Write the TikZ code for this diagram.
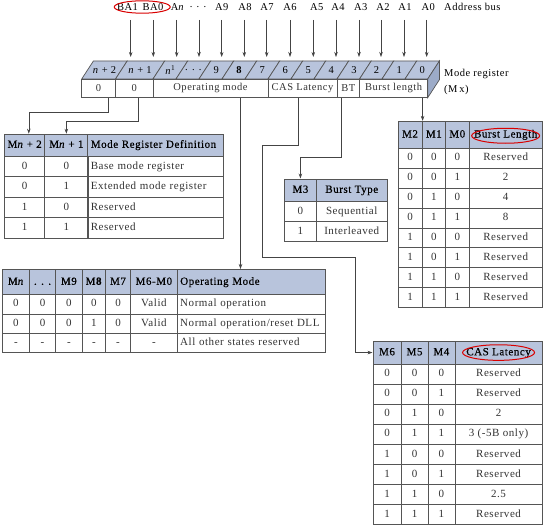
\documentclass[tikz,border=0pt]{standalone}
\usepackage{fontspec}
\setmainfont{Liberation Serif}[LetterSpace=5]
\newfontfamily\hdrfam{Liberation Serif}[LetterSpace=5,FakeBold=0.35]
\usetikzlibrary{matrix,arrows.meta,calc}
\definecolor{hdrblue}{HTML}{B8C4DC}
\definecolor{sideblue}{HTML}{9CABC8}
\definecolor{tline}{HTML}{555555}
\definecolor{txt}{HTML}{333333}
\definecolor{cline}{HTML}{444444}
\newcommand\tabfont{\fontsize{11}{13}\selectfont}
\newcommand\regfont{\fontsize{10.5}{12}\selectfont}
\newcommand\hdrfont{\hdrfam\fontsize{11}{13}\selectfont}
\tikzset{
  tbl/.style={matrix of nodes, column sep=-0.7pt, row sep=-0.7pt, inner sep=0pt,
    nodes={draw=tline, line width=0.7pt, anchor=center, inner xsep=2pt, inner ysep=0pt,
      text height=7.5pt, text depth=2pt, font=\tabfont, text=txt}},
  hrow/.style={nodes={fill=hdrblue, font=\hdrfont, text=black, minimum height=#1}},
  cw/.style={nodes={minimum width=#1}},
  lw/.style={nodes={text width=#1, align=left, inner xsep=3pt}},
  rh/.style={nodes={minimum height=#1}},
  front/.style={draw=tline, line width=0.7pt, fill=white, minimum height=18.7pt, inner sep=0pt,
    font=\regfont, text=txt},
  topface/.style={draw=tline, line width=0.7pt, fill=hdrblue},
  toplbl/.style={font=\regfont, text=black, inner sep=0pt},
  addr/.style={font=\regfont, text=black, inner sep=1pt},
  arr/.style={draw=cline, line width=0.6pt, -{Stealth[length=5pt,width=3.5pt]}},
  redell/.style={draw=red!85!black, line width=1pt},
}
\begin{document}
\begin{tikzpicture}[x=1pt,y=-1pt]
\useasboundingbox[fill=white] (0,0) rectangle (546,527);

% address labels and arrows
\foreach \lx/\ax/\t [count=\i] in {127.5/130.7/BA1, 153/153.3/BA0, 177.5/176.7/{A\textit{n}},
  198/199/{. . .}, 221.7/221.7/A9, 245/244.3/A8, 267/266.7/A7, 290/290/A6, 316.7/313.3/A5,
  338/336/A4, 360.7/359/A3, 383/381/A2, 405/404/A1, 428.3/426.7/A0}
{
  \node[addr] (L\i) at (\lx,7) {\t};
  \coordinate (S\i) at (\ax,20);
  \coordinate (E\i) at (\ax,57);
  \draw[arr] (S\i) -- (E\i);
}
\node[addr, anchor=west] (abus) at (443,7) {Address bus};
\path (L1) -- (L2) coordinate[pos=0.5] (bamid);
\draw[redell] ([xshift=2pt]bamid) ellipse [x radius=28pt, y radius=6.2pt];

% register top face
\foreach \l/\r/\t [count=\i] in {81.7/115.5/{\textit{n} + 2}, 115.5/153/{\textit{n} + 1},
  153/176/{\textit{n}\textsuperscript{1}}, 176/199/{. . .}, 199/222/9, 222/245/{\textbf{8}},
  245/268/7, 268/291/6, 291/314/5, 314/337/4, 337/359.5/3, 359.5/382/2, 382/405/1, 405/427.7/0}
{
  \filldraw[topface] (\l,79) -- (\r,79) -- (\r+11.7,61) -- (\l+11.7,61) -- cycle;
  \node[toplbl] (T\i) at ({(\l+\r)/2+5.85},70.5) {\t};
}
% side face
\filldraw[draw=tline, line width=0.7pt, fill=sideblue] (427.7,79) -- (439.4,61) -- (439.4,79.7) -- (427.7,97.7) -- cycle;

% register front cells
\node[front, minimum width=33.8pt] (c1) at (98.6,88.35) {0};
\node[front, minimum width=37.5pt] (c2) at (134.25,88.35) {0};
\node[front, minimum width=115pt] (cop) at (210.5,88.35) {Operating mode};
\node[front, minimum width=69pt] (ccas) at (302.5,88.35) {CAS Latency};
\node[front, minimum width=22.5pt] (cbt) at (348.25,88.35) {BT};
\node[front, minimum width=68.2pt] (cbl) at (393.6,88.35) {Burst length};

\node[addr, anchor=west] (mreg) at (443,74) {Mode register};
\node[addr, anchor=west] (mx) at (443,89.5) {(M\,x)};

% Mode register definition
\matrix (tblA) [tbl, anchor=north west, rh=20.5pt, row 1/.style={hrow=22pt},
  column 1/.style={cw=40.3pt}, column 2/.style={cw=43pt}, column 3/.style={lw=129.4pt}]
  at (4,133.5) {
  M\textit{n} + 2 & M\textit{n} + 1 & Mode Register Definition \\
  0 & 0 & Base mode register \\
  0 & 1 & Extended mode register \\
  1 & 0 & Reserved \\
  1 & 1 & Reserved \\
};

% Burst length
\matrix (tblB) [tbl, anchor=north west, rh=19.9pt, row 1/.style={hrow=27pt},
  column 1/.style={cw=24.4pt}, column 2/.style={cw=23.3pt}, column 3/.style={cw=23.5pt},
  column 4/.style={cw=73.2pt}]
  at (397.3,120.7) {
  M2 & M1 & M0 & Burst Length \\
  0 & 0 & 0 & Reserved \\
  0 & 0 & 1 & 2 \\
  0 & 1 & 0 & 4 \\
  0 & 1 & 1 & 8 \\
  1 & 0 & 0 & Reserved \\
  1 & 0 & 1 & Reserved \\
  1 & 1 & 0 & Reserved \\
  1 & 1 & 1 & Reserved \\
};
\draw[redell] ([yshift=-1pt]tblB-1-4.center) ellipse [x radius=34pt, y radius=7.5pt];

% Burst type
\matrix (tblC) [tbl, anchor=north west, rh=20pt, row 1/.style={hrow=22.4pt},
  column 1/.style={cw=31.7pt}, column 2/.style={cw=71pt}]
  at (284,178.3) {
  M3 & Burst Type \\
  0 & Sequential \\
  1 & Interleaved \\
};

% Operating mode
\matrix (tblD) [tbl, anchor=north west, rh=19.3pt, row 1/.style={hrow=25pt},
  column 1/.style={cw=27.3pt}, column 2/.style={cw=26pt}, column 3/.style={cw=26.7pt},
  column 4/.style={cw=23.3pt}, column 5/.style={cw=25pt}, column 6/.style={cw=46.7pt},
  column 7/.style={lw=142.3pt}]
  at (1.7,269) {
  M\textit{n} & . . . & M9 & M\textbf{8} & M7 & M6-M0 & Operating Mode \\
  0 & 0 & 0 & 0 & 0 & Valid & Normal operation \\
  0 & 0 & 0 & 1 & 0 & Valid & Normal operation/reset DLL \\
  - & - & - & - & - & - & All other states reserved \\
};

% CAS latency
\matrix (tblE) [tbl, anchor=north west, rh=20.1pt, row 1/.style={hrow=22.6pt},
  column 1/.style={cw=28.4pt}, column 2/.style={cw=26.6pt}, column 3/.style={cw=27pt},
  column 4/.style={cw=87.4pt}]
  at (372.3,340.7) {
  M6 & M5 & M4 & CAS Latency \\
  0 & 0 & 0 & Reserved \\
  0 & 0 & 1 & Reserved \\
  0 & 1 & 0 & 2 \\
  0 & 1 & 1 & 3 (-5B only) \\
  1 & 0 & 0 & Reserved \\
  1 & 0 & 1 & Reserved \\
  1 & 1 & 0 & 2.5 \\
  1 & 1 & 1 & Reserved \\
};
\draw[redell] (tblE-1-4.center) ellipse [x radius=36pt, y radius=7.8pt];

% connectors
\draw[arr] ([xshift=9.7pt]c1.south) -- ++(0,14) -| ([xshift=4.1pt]tblA-1-1.north);
\draw[arr] ([xshift=4.05pt]c2.south) -- ++(0,23.3) -| (tblA-1-2.north);
\draw[arr] ([xshift=30pt]cop.south) -- ([xshift=30pt]cop.south |- tblD.north);
\draw[arr] ([xshift=-4.2pt]ccas.south) -- ++(0,47.3) -- ++(-36,0) -- ++(0,111.5) -- ++(93.2,0) |- (tblE-1-1.west);
\draw[arr] ([xshift=-6.55pt]cbt.south) -- ++(0,59) -| (tblC-1-1.north);
\draw[arr] (cbl.south -| tblB-1-1.north east) -- (tblB-1-1.north east);
\end{tikzpicture}
\end{document}
